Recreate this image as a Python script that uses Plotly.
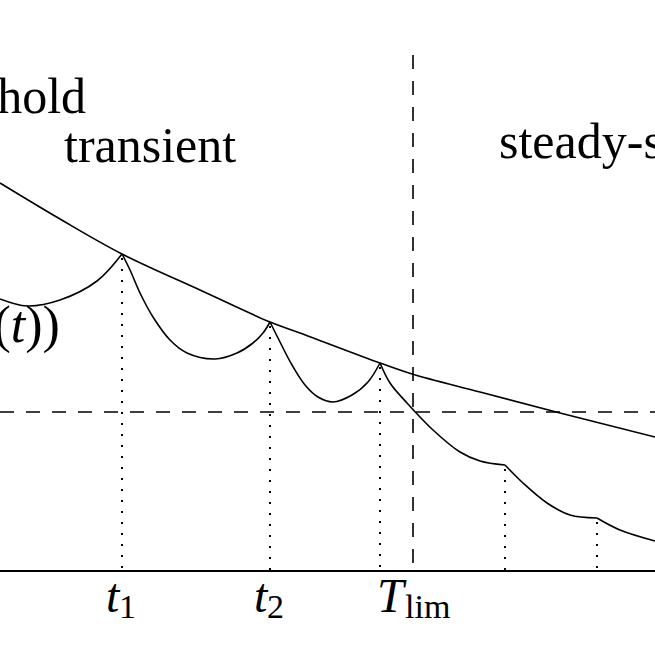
import plotly.graph_objects as go

# Heights are measured upward from the time axis (axis at height 0).
thr_x = [0, 60, 122, 200, 270, 300, 380, 412, 480, 560, 655]
thr_h = [388, 352, 317, 281, 249, 238, 208, 197, 179, 158, 134]

arcs_x = [
    [0, 27, 60, 97, 122],
    [122, 130, 140, 153, 170, 187, 215, 237, 253, 263, 270],
    [270, 278, 292, 305, 318, 333, 352, 368, 380],
    [380, 390, 407, 433, 460, 480, 505],
    [505, 523, 547, 570, 597],
    [597, 620, 655],
]
arcs_h = [
    [272, 265, 271, 290, 317],
    [317, 301, 278, 254, 231, 218, 212, 218, 228, 238, 249],
    [249, 233, 206, 186, 174, 169, 176, 189, 208],
    [208, 188, 168, 141, 119, 110, 106],
    [106, 88, 68, 56, 53],
    [53, 41, 30],
]

event_x = [122, 270, 380, 505, 597]
event_h = [317, 249, 208, 106, 53]

t_lim = 413
level_h = 159
dash_top = 516

# tick labels: (x of junction between symbol and subscript, symbol, subscript)
tick_x = [121, 269, 407]
tick_sym = ["t", "t", "T"]
tick_sub = ["1", "2", "lim"]

X0, X1 = 0, 655
Y0, Y1 = -84, 571

fig = go.Figure()
black = "black"

fig.add_trace(go.Scatter(x=thr_x, y=thr_h, mode="lines",
                         line=dict(color=black, width=1.6, shape="spline", smoothing=1.0),
                         hoverinfo="skip"))
for ax_, ah_ in zip(arcs_x, arcs_h):
    fig.add_trace(go.Scatter(x=ax_, y=ah_, mode="lines",
                             line=dict(color=black, width=1.6, shape="spline", smoothing=1.0),
                             hoverinfo="skip"))

for ex, eh in zip(event_x, event_h):
    fig.add_trace(go.Scatter(x=[ex, ex], y=[eh - 4, 0], mode="lines",
                             line=dict(color=black, width=2, dash="2px,9px"),
                             hoverinfo="skip"))

fig.add_trace(go.Scatter(x=[t_lim, t_lim], y=[dash_top, 0], mode="lines",
                         line=dict(color=black, width=1.6, dash="14px,12px"), hoverinfo="skip"))
fig.add_trace(go.Scatter(x=[X0, X1], y=[level_h, level_h], mode="lines",
                         line=dict(color=black, width=1.6, dash="14px,12px"), hoverinfo="skip"))
fig.add_trace(go.Scatter(x=[X0, X1], y=[0, 0], mode="lines",
                         line=dict(color=black, width=2), hoverinfo="skip"))

serif = "Liberation Serif"
fs = 50

def label(x, y, text, xanchor, size=fs):
    fig.add_annotation(x=x, y=y, text=text, showarrow=False, xanchor=xanchor,
                       yanchor="bottom", yshift=-0.25 * size,
                       font=dict(family=serif, size=size, color=black))

label(88, 458, "threshold", "right")
label(150, 409, "transient", "center")
label(497, 413, "steady-state", "left")
label(62, 228, "<i>h</i>(<i>x</i>(<i>t</i>))", "right", size=52)
for tx, ts, tb in zip(tick_x, tick_sym, tick_sub):
    label(tx + 2, -41, "<i>" + ts + "</i>", "right", size=48)
    label(tx - 4, -47, tb, "left", size=34)

fig.update_layout(
    width=655, height=655, margin=dict(l=0, r=0, t=0, b=0),
    paper_bgcolor="white", plot_bgcolor="white", showlegend=False,
    xaxis=dict(range=[X0, X1], visible=False, fixedrange=True),
    yaxis=dict(range=[Y0, Y1], visible=False, fixedrange=True),
)
fig.write_html("out.html")
